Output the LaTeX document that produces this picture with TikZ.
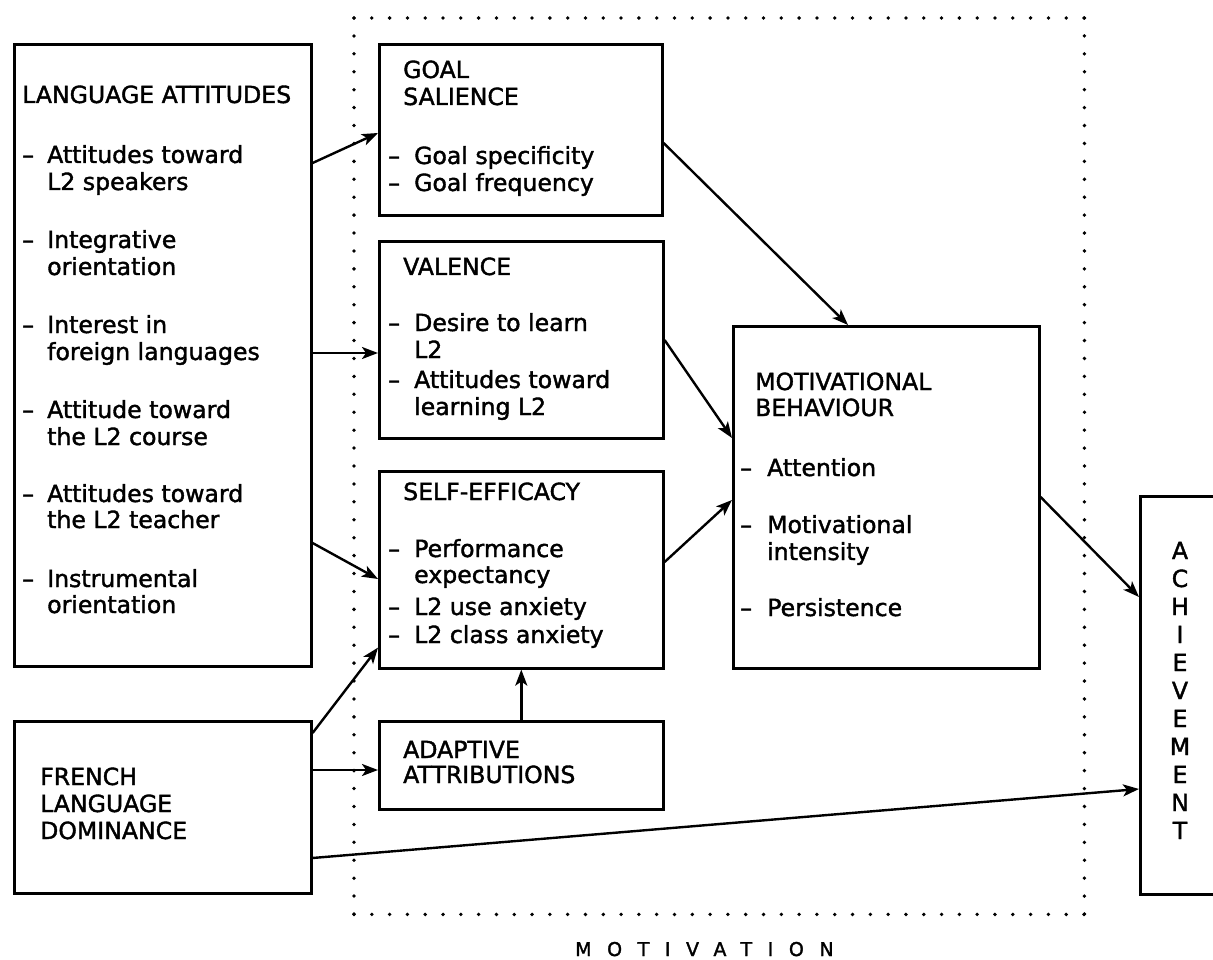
\documentclass[tikz,border=0pt]{standalone}
\usepackage{fontspec}
\usetikzlibrary{arrows.meta}
\newfontfamily\labelfont[Ligatures=TeX, FakeBold=1.6]{DejaVu Sans}
\newfontfamily\spacedfont[LetterSpace=82, FakeBold=1.6]{DejaVu Sans}
\newcommand\itemdash[1]{\makebox[#1][l]{\textendash}}
\tikzset{
  box/.style={draw, line width=2.6pt, rectangle, inner sep=0pt, anchor=north west},
  txt/.style={anchor=base west, inner sep=0pt, font=\labelfont\fontsize{23.6}{27}\selectfont},
  arr/.style={line width=2.4pt, -{Stealth[length=16pt,width=12pt,inset=4pt]}},
  dots/.style={line width=3.8pt, line cap=round}
}
\begin{document}
\begin{tikzpicture}[x=1pt, y=-1pt]
\useasboundingbox (0,0) rectangle (1213,960);
\clip (0,0) rectangle (1213,960);

% boxes
\node[box, minimum width=297pt, minimum height=622pt] (la) at (13,43) {};
\node[box, minimum width=283pt, minimum height=171pt] (goal) at (378,43) {};
\node[box, minimum width=284pt, minimum height=197pt] (val) at (378,240) {};
\node[box, minimum width=284pt, minimum height=197pt] (se) at (378,470) {};
\node[box, minimum width=284pt, minimum height=88pt] (aa) at (378,720) {};
\node[box, minimum width=297pt, minimum height=172pt] (fr) at (13,720) {};
\node[box, minimum width=306pt, minimum height=342pt] (mb) at (732,325) {};
\node[box, minimum width=90pt, minimum height=398pt] (ach) at (1139,495) {};

% dotted frame around the motivation components
\node[inner sep=0pt, minimum width=730pt, minimum height=896pt, anchor=north west] (mot) at (354,18) {};
\draw[dots, dash pattern=on 0pt off 17.805pt] (mot.north west) -- (mot.north east);
\draw[dots, dash pattern=on 0pt off 17.805pt] (mot.south west) -- (mot.south east);
\draw[dots, dash pattern=on 0pt off 17.92pt] (mot.north west) -- (mot.south west);
\draw[dots, dash pattern=on 0pt off 17.92pt] (mot.north east) -- (mot.south east);
\node[anchor=base west, inner sep=0pt, font=\spacedfont\fontsize{19}{21}\selectfont] (motlabel) at (575,956) {MOTIVATION};

% language attitudes
\node[txt] (la0) at (22,103) {LANGUAGE ATTITUDES};
\node[txt] (la1) at (22,163) {\itemdash{25pt}Attitudes toward};
\node[txt] (la2) at (47,190) {L2 speakers};
\node[txt] (la3) at (22,248) {\itemdash{25pt}Integrative};
\node[txt] (la4) at (47,275) {orientation};
\node[txt] (la5) at (22,333) {\itemdash{25pt}Interest in};
\node[txt] (la6) at (47,360) {foreign languages};
\node[txt] (la7) at (22,418) {\itemdash{25pt}Attitude toward};
\node[txt] (la8) at (47,445) {the L2 course};
\node[txt] (la9) at (22,502) {\itemdash{25pt}Attitudes toward};
\node[txt] (la10) at (47,528) {the L2 teacher};
\node[txt] (la11) at (22,587) {\itemdash{25pt}Instrumental};
\node[txt] (la12) at (47,613) {orientation};

% goal salience
\node[txt] (goal0) at (403,78) {GOAL};
\node[txt] (goal1) at (403,105) {SALIENCE};
\node[txt] (goal2) at (388,164) {\itemdash{26pt}Goal specificity};
\node[txt] (goal3) at (388,191) {\itemdash{26pt}Goal frequency};

% valence
\node[txt] (val0) at (403,275) {VALENCE};
\node[txt] (val1) at (388,331) {\itemdash{26pt}Desire to learn};
\node[txt] (val2) at (414,358) {L2};
\node[txt] (val3) at (388,388) {\itemdash{26pt}Attitudes toward};
\node[txt] (val4) at (414,415) {learning L2};

% self-efficacy
\node[txt] (se0) at (403,500) {SELF-EFFICACY};
\node[txt] (se1) at (388,557) {\itemdash{26pt}Performance};
\node[txt] (se2) at (414,583) {expectancy};
\node[txt] (se3) at (388,615) {\itemdash{26pt}L2 use anxiety};
\node[txt] (se4) at (388,643) {\itemdash{26pt}L2 class anxiety};

% adaptive attributions
\node[txt] (aa0) at (403,758) {ADAPTIVE};
\node[txt] (aa1) at (403,783) {ATTRIBUTIONS};

% French language dominance
\node[txt] (fr0) at (40,785) {FRENCH};
\node[txt] (fr1) at (40,812) {LANGUAGE};
\node[txt] (fr2) at (40,839) {DOMINANCE};

% motivational behaviour
\node[txt] (mb0) at (755,390) {MOTIVATIONAL};
\node[txt] (mb1) at (755,416) {BEHAVIOUR};
\node[txt] (mb2) at (740,476) {\itemdash{27pt}Attention};
\node[txt] (mb3) at (740,533) {\itemdash{27pt}Motivational};
\node[txt] (mb4) at (767,560) {intensity};
\node[txt] (mb5) at (740,616) {\itemdash{27pt}Persistence};

% achievement, one letter per line
\foreach \ch [count=\i from 0] in {A,C,H,I,E,V,E,M,E,N,T}
  \node[txt, anchor=base] (ach\i) at (1180,559+28*\i) {\ch};

% connectors
\draw[arr] ([yshift=-120pt]la.north east) -- ([yshift=-90pt]goal.north west);
\draw[arr] ([yshift=-310pt]la.north east) -- ([yshift=-113pt]val.north west);
\draw[arr] ([yshift=-500pt]la.north east) -- ([yshift=-109pt]se.north west);
\draw[arr] ([yshift=-13pt]fr.north east) -- ([yshift=22pt]se.south west);
\draw[arr] ([yshift=-50pt]fr.north east) -- ([yshift=-50pt]aa.north west);
\draw[arr] (aa.north) -- (se.south);
\draw[arr] ([yshift=-138pt]fr.north east) -- ([yshift=-294pt]ach.north west);
\draw[arr] ([yshift=-100pt]goal.north east) -- ([xshift=116pt]mb.north west);
\draw[arr] ([yshift=-100pt]val.north east) -- ([yshift=-113pt]mb.north west);
\draw[arr] ([yshift=-92pt]se.north east) -- ([yshift=-175pt]mb.north west);
\draw[arr] ([yshift=-172pt]mb.north east) -- ([yshift=-102pt]ach.north west);
\end{tikzpicture}
\end{document}
